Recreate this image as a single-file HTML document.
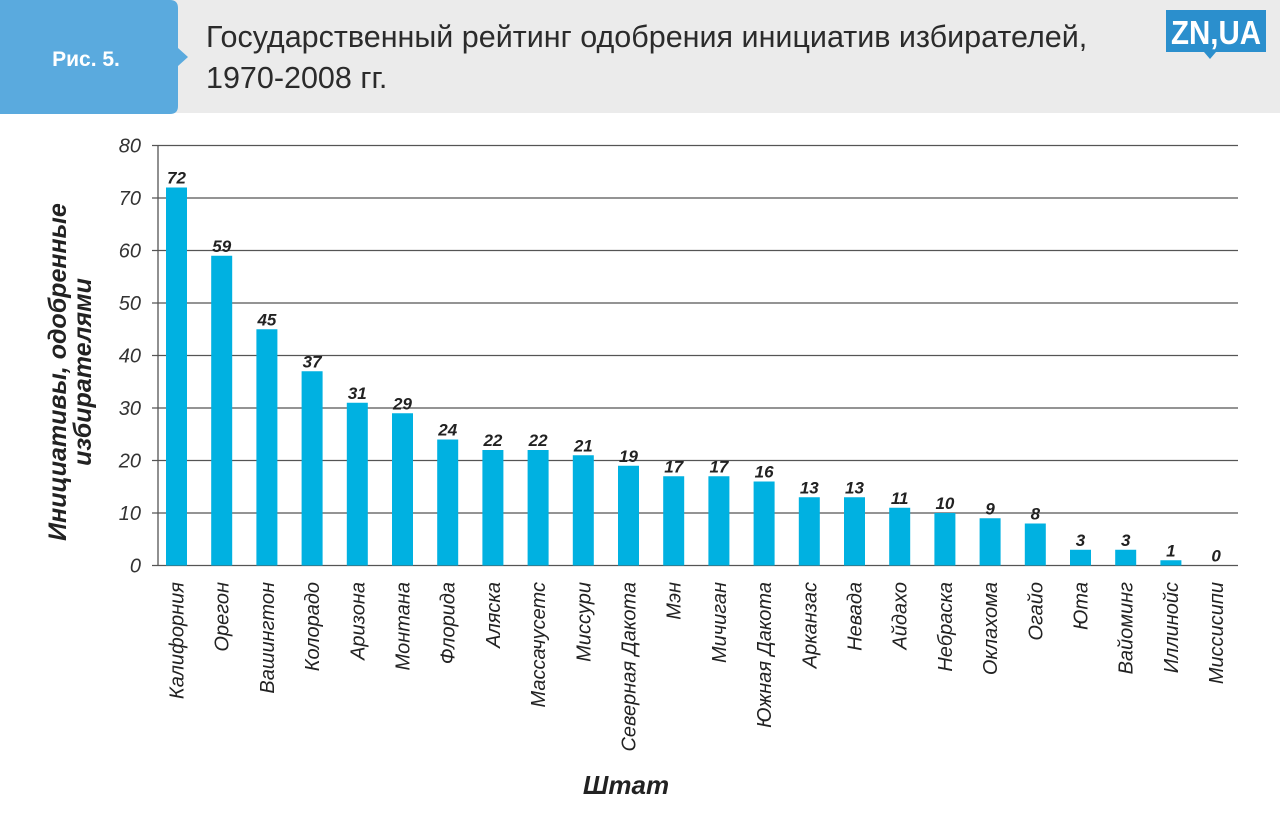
<!DOCTYPE html>
<html><head><meta charset="utf-8"><style>
body{margin:0;width:1280px;height:821px;background:#fff;font-family:"Liberation Sans","DejaVu Sans",sans-serif;overflow:hidden;position:relative}
</style></head><body>
<div style="position:absolute;left:0;top:0;width:1280px;height:113px;background:#ebebeb"></div>
<svg style="position:absolute;left:0;top:0" width="200" height="116">
<path d="M0 0 H170 Q178 0 178 8 V48 L188 57 L178 66 V106 Q178 114 170 114 H0 Z" fill="#5aaade"/>
<text x="86" y="66" text-anchor="middle" font-family="Liberation Sans, sans-serif" font-weight="bold" font-size="21" fill="#fff">Рис. 5.</text>
</svg>
<div style="position:absolute;left:206px;top:17px;font-size:30.5px;line-height:41px;color:#2b2b2b">Государственный рейтинг одобрения инициатив избирателей,<br>1970-2008 гг.</div>
<svg style="position:absolute;left:1164px;top:8px" width="104" height="52">
<rect x="2" y="2" width="100" height="42" fill="#2b8fcd"/><path d="M40 44 L46 51 L52 44Z" fill="#2b8fcd"/>
<text x="52" y="36" text-anchor="middle" font-family="Liberation Sans, sans-serif" font-weight="bold" font-size="33" fill="#fff" textLength="90" lengthAdjust="spacingAndGlyphs">ZN,UA</text>
</svg>
<svg id="chart" style="position:absolute;left:0;top:0" width="1280" height="821"></svg>
<script>
const categories=["Калифорния","Орегон","Вашингтон","Колорадо","Аризона","Монтана","Флорида","Аляска","Массачусетс","Миссури","Северная Дакота","Мэн","Мичиган","Южная Дакота","Арканзас","Невада","Айдахо","Небраска","Оклахома","Огайо","Юта","Вайоминг","Иллинойс","Миссисипи"];
const values=[72,59,45,37,31,29,24,22,22,21,19,17,17,16,13,13,11,10,9,8,3,3,1,0];
const yTicks=[0,10,20,30,40,50,60,70,80];
const NS="http://www.w3.org/2000/svg";
const svg=document.getElementById('chart');
const y0=565.5,yTop=145.5,xL=158,xR=1238;
function y(v){return y0-(v/80)*(y0-yTop);}
function xc(i){return 176.5+i*45.2;}
function mk(t,a){const e=document.createElementNS(NS,t);for(const k in a)e.setAttribute(k,a[k]);svg.appendChild(e);return e;}
yTicks.forEach(t=>{
 const l=mk('line',{x1:152,x2:xR,y1:y(t),y2:y(t),stroke:'#555','stroke-width':1.3});
 
 
 const tx=mk('text',{x:141,y:y(t)+7,'text-anchor':'end','font-size':20,'font-style':'italic',fill:'#333'});
 tx.textContent=t;
 
 
});
const ax=mk('line',{x1:xL,x2:xL,y1:yTop,y2:y0,stroke:'#555','stroke-width':1.3});


categories.forEach((c,i)=>{
 const v=values[i];
 if(v>0){
  const r=mk('rect',{x:xc(i)-10.5,y:y(v),width:21,height:y0-y(v),fill:'#00b1e1'});
  
  
 }
 const vl=mk('text',{x:xc(i),y:y(v)-4,'text-anchor':'middle','font-size':17,'font-weight':'bold','font-style':'italic',fill:'#222'});
 vl.textContent=v;
 
 
 const cl=mk('text',{x:0,y:0,'text-anchor':'end','font-size':20,'font-style':'italic',fill:'#222',transform:`translate(${xc(i)+7},582) rotate(-90)`});
 cl.textContent=c;
 
 
});
const yt=mk('text',{x:0,y:0,'text-anchor':'middle','font-size':25,'font-weight':'bold','font-style':'italic',fill:'#222',transform:'translate(72,372) rotate(-90)'});


const t1=document.createElementNS(NS,'tspan');t1.setAttribute('x',0);t1.setAttribute('dy',-6);t1.textContent='Инициативы, одобренные';yt.appendChild(t1);
const t2=document.createElementNS(NS,'tspan');t2.setAttribute('x',0);t2.setAttribute('dy',25);t2.textContent='избирателями';yt.appendChild(t2);
const xt=mk('text',{x:626,y:794,'text-anchor':'middle','font-size':26,'font-weight':'bold','font-style':'italic',fill:'#222'});
xt.textContent='Штат';


</script>
</body></html>
